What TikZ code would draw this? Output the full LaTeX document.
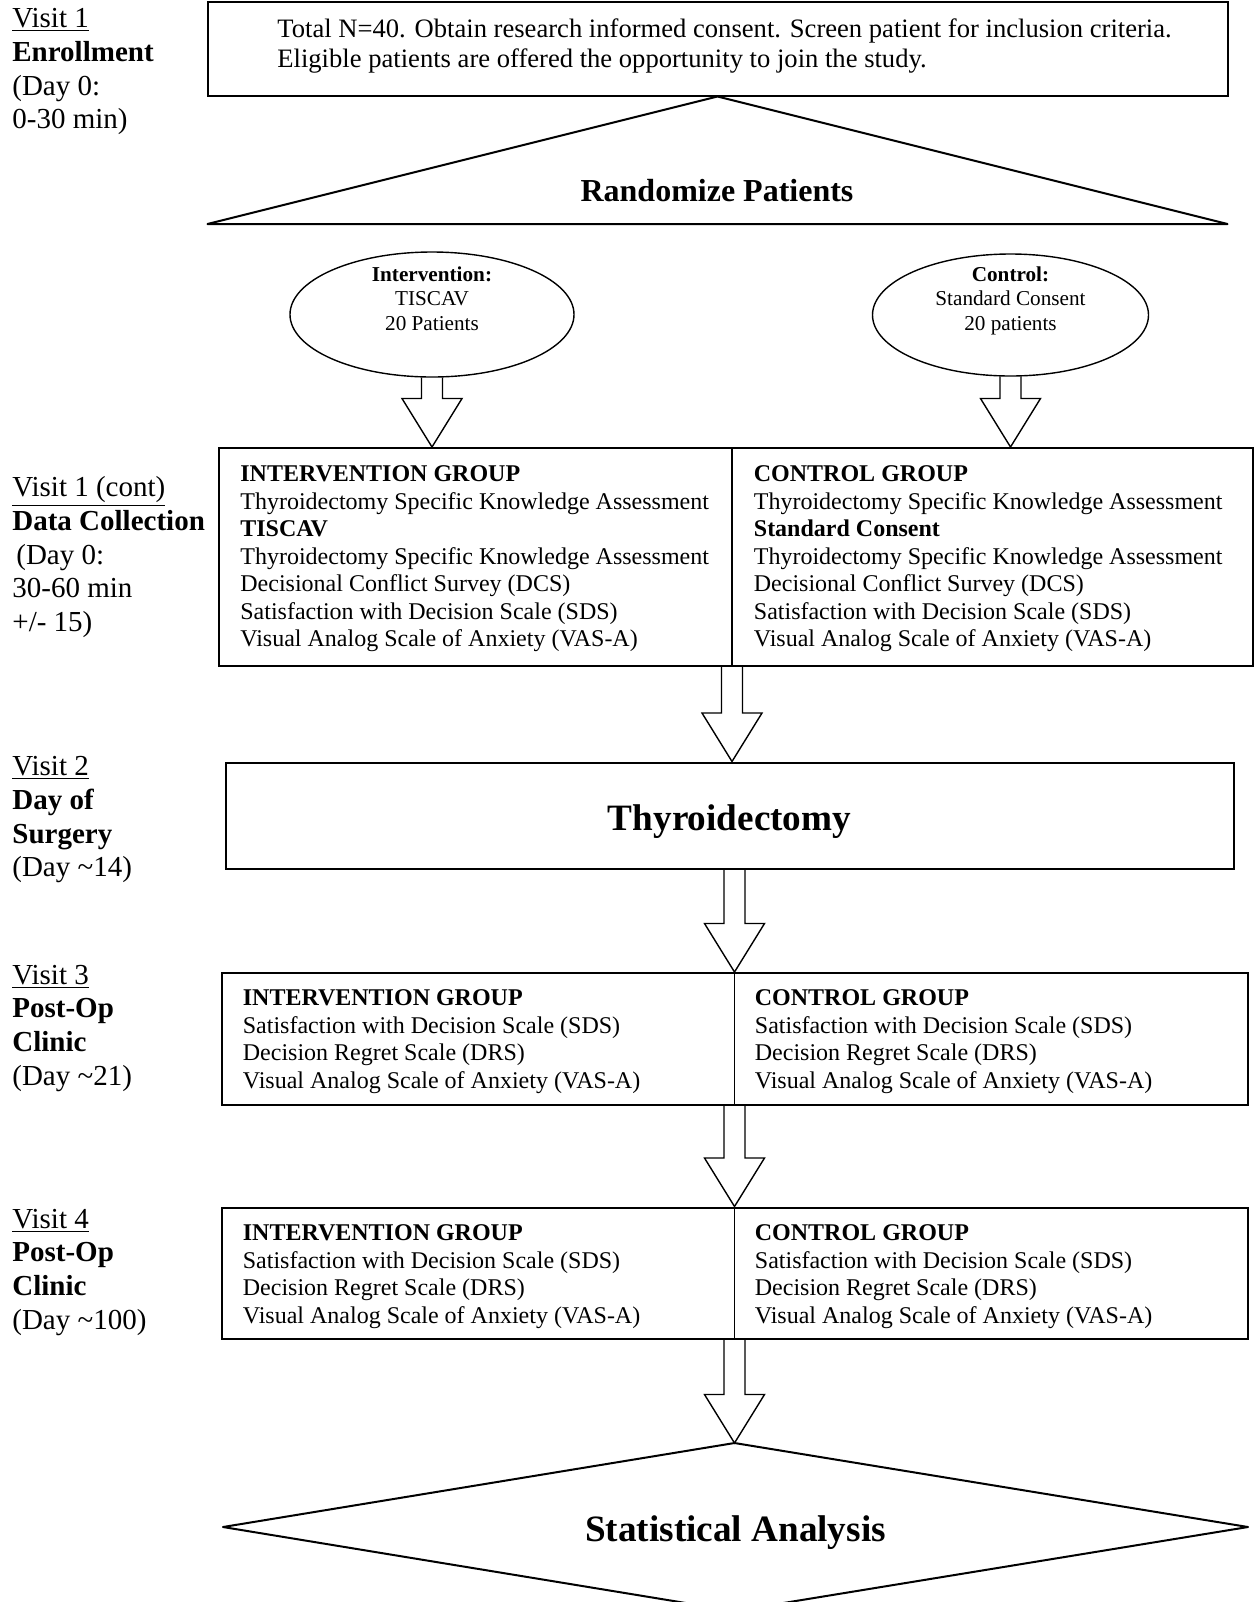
\documentclass[tikz,border=0pt]{standalone}
\usepackage{fontspec}
\setmainfont{Liberation Serif}
\usetikzlibrary{calc,shapes.geometric}
\tikzset{
  box/.style={draw, line width=1pt, rectangle, inner sep=0pt},
  grptext/.style={anchor=base west, inner sep=0pt, font=\fontsize{12}{13.75}\selectfont},
  lbl/.style={anchor=base west, inner sep=0pt, font=\fontsize{14.5}{16.9}\selectfont},
  elltext/.style={anchor=base, inner sep=0pt, font=\fontsize{10.6}{12.3}\selectfont},
  titletext/.style={inner sep=0pt, font=\fontsize{18.6}{22}\selectfont\bfseries},
  ell/.style={draw, ellipse, line width=0.7pt, inner sep=0pt},
  divider/.style={line width=0.7pt},
  blockarrow/.style={draw, line width=0.7pt, line join=miter,
    to path={let \p1=(\tikztostart), \p2=(\tikztotarget) in
      (\x1-5.25pt,\y1) -- (\x1-5.25pt,\y2+24.25pt) -- (\x1-15pt,\y2+24.25pt) --
      (\x1,\y2) -- (\x1+15pt,\y2+24.25pt) -- (\x1+5.25pt,\y2+24.25pt) -- (\x1+5.25pt,\y1)}}
}
\begin{document}
\begin{tikzpicture}[x=0.5pt,y=-0.5pt]
\useasboundingbox (0,0) rectangle (1254,1602);
\clip (0,0) rectangle (1254,1602);

% left labels
\node[lbl] (l1) at (12,27.5) {\begin{tabular}[t]{@{}l@{}}\underline{Visit 1}\\ \textbf{Enrollment}\\ (Day 0:\\ 0-30 min)\end{tabular}};
\node[lbl] (l2) at (12,496.5) {\begin{tabular}[t]{@{}l@{}}\underline{Visit 1 (cont)}\\ \textbf{Data Collection}\\ \hspace{2pt}(Day 0:\\ 30-60 min\\ +/- 15)\end{tabular}};
\node[lbl] (l3) at (12,775.5) {\begin{tabular}[t]{@{}l@{}}\underline{Visit 2}\\ \textbf{Day of}\\ \textbf{Surgery}\\ (Day \textasciitilde14)\end{tabular}};
\node[lbl] (l4) at (12,984) {\begin{tabular}[t]{@{}l@{}}\underline{Visit 3}\\ \textbf{Post-Op}\\ \textbf{Clinic}\\ (Day \textasciitilde21)\end{tabular}};
\node[lbl] (l5) at (12,1228) {\begin{tabular}[t]{@{}l@{}}\underline{Visit 4}\\ \textbf{Post-Op}\\ \textbf{Clinic}\\ (Day \textasciitilde100)\end{tabular}};

% enrollment box
\node[box, minimum width=510pt, minimum height=47pt] (top) at (717.5,48.5) {};
\node[anchor=base west, inner sep=0pt, font=\fontsize{13.3}{15}\selectfont] (toptext) at (277,37)
  {\begin{tabular}[t]{@{}l@{}}Total N=40. Obtain research informed consent. Screen patient for inclusion criteria.\\ Eligible patients are offered the opportunity to join the study.\end{tabular}};

% randomize triangle
\coordinate (triL) at (207.5,224);
\coordinate (triR) at (1227.5,224);
\draw[line width=1pt, line join=round] (top.south) -- (triR) -- (triL) -- cycle;
\node[inner sep=0pt, font=\fontsize{16}{18}\selectfont\bfseries] (rand) at (717,191) {Randomize Patients};

% ellipses
\node[ell, minimum width=142pt, minimum height=62.5pt] (intE) at (432,314.5) {};
\node[elltext] (intT) at (432,281) {\begin{tabular}[t]{@{}c@{}}\textbf{Intervention:}\\ TISCAV\\ 20 Patients\end{tabular}};
\node[ell, minimum width=138pt, minimum height=61pt] (conE) at (1010.5,315) {};
\node[elltext] (conT) at (1010.5,281) {\begin{tabular}[t]{@{}c@{}}\textbf{Control:}\\ Standard Consent\\ 20 patients\end{tabular}};

% data collection box
\node[box, minimum width=517pt, minimum height=108.75pt] (dc) at (736,556.75) {};
\coordinate (dcdiv) at (732,448);
\draw[divider] (dc.north -| dcdiv) -- (dc.south -| dcdiv);
\node[grptext] (dcL) at (240,481.5) {\begin{tabular}[t]{@{}l@{}}\textbf{INTERVENTION GROUP}\\ Thyroidectomy Specific Knowledge Assessment\\ \textbf{TISCAV}\\ Thyroidectomy Specific Knowledge Assessment\\ Decisional Conflict Survey (DCS)\\ Satisfaction with Decision Scale (SDS)\\ Visual Analog Scale of Anxiety (VAS-A)\end{tabular}};
\node[grptext] (dcR) at (753.5,481.5) {\begin{tabular}[t]{@{}l@{}}\textbf{CONTROL GROUP}\\ Thyroidectomy Specific Knowledge Assessment\\ \textbf{Standard Consent}\\ Thyroidectomy Specific Knowledge Assessment\\ Decisional Conflict Survey (DCS)\\ Satisfaction with Decision Scale (SDS)\\ Visual Analog Scale of Anxiety (VAS-A)\end{tabular}};

% thyroidectomy
\node[box, minimum width=504pt, minimum height=53.25pt] (thy) at (729.5,815.75) {};
\node[titletext] (thyT) at (729.5,821.5) {Thyroidectomy};

% visit 3 box
\node[box, minimum width=513pt, minimum height=65.75pt] (v3) at (735,1038.75) {};
\coordinate (v3div) at (734.5,973);
\draw[divider] (v3.north -| v3div) -- (v3.south -| v3div);
\node[grptext] (v3L) at (242.5,1005.5) {\begin{tabular}[t]{@{}l@{}}\textbf{INTERVENTION GROUP}\\ Satisfaction with Decision Scale (SDS)\\ Decision Regret Scale (DRS)\\ Visual Analog Scale of Anxiety (VAS-A)\end{tabular}};
\node[grptext] (v3R) at (754.5,1005.5) {\begin{tabular}[t]{@{}l@{}}\textbf{CONTROL GROUP}\\ Satisfaction with Decision Scale (SDS)\\ Decision Regret Scale (DRS)\\ Visual Analog Scale of Anxiety (VAS-A)\end{tabular}};

% visit 4 box
\node[box, minimum width=513pt, minimum height=65.75pt] (v4) at (735,1273.25) {};
\coordinate (v4div) at (734.5,1207.5);
\draw[divider] (v4.north -| v4div) -- (v4.south -| v4div);
\node[grptext] (v4L) at (242.5,1240.5) {\begin{tabular}[t]{@{}l@{}}\textbf{INTERVENTION GROUP}\\ Satisfaction with Decision Scale (SDS)\\ Decision Regret Scale (DRS)\\ Visual Analog Scale of Anxiety (VAS-A)\end{tabular}};
\node[grptext] (v4R) at (754.5,1240.5) {\begin{tabular}[t]{@{}l@{}}\textbf{CONTROL GROUP}\\ Satisfaction with Decision Scale (SDS)\\ Decision Regret Scale (DRS)\\ Visual Analog Scale of Anxiety (VAS-A)\end{tabular}};

% statistical analysis diamond
\coordinate (statN) at (734.5,1443);
\coordinate (statE) at (1248,1527);
\coordinate (statS) at (734.5,1611);
\coordinate (statW) at (223,1527);
\draw[line width=1pt, line join=round] (statN) -- (statE) -- (statS) -- (statW) -- cycle;
\node[titletext] (stat) at (735.5,1533) {Statistical Analysis};

% block arrows
\draw[blockarrow] (intE.south) to (intE.south |- dc.north);
\draw[blockarrow] (conE.south) to (conE.south |- dc.north);
\draw[blockarrow] (dc.south -| dcdiv) to (thy.north -| dcdiv);
\draw[blockarrow] (thy.south -| v3div) to (v3.north -| v3div);
\draw[blockarrow] (v3.south -| v3div) to (v4.north -| v4div);
\draw[blockarrow] (v4.south -| v4div) to (statN);
\end{tikzpicture}
\end{document}
